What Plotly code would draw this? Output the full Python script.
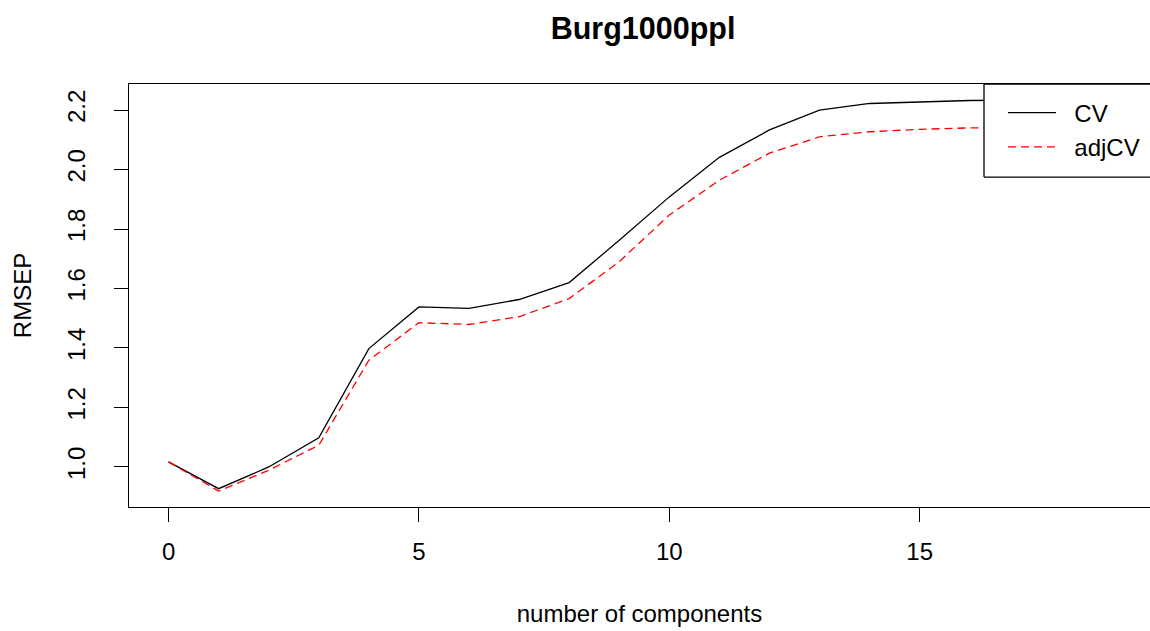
import plotly.graph_objects as go

components = list(range(0, 20))
cv = [1.017, 0.927, 1.000, 1.098, 1.398, 1.538, 1.533, 1.563, 1.620, 1.762,
      1.908, 2.041, 2.133, 2.200, 2.222, 2.226, 2.232, 2.233, 2.234, 2.235]
adjcv = [1.017, 0.919, 0.989, 1.073, 1.359, 1.485, 1.479, 1.505, 1.566, 1.690,
         1.847, 1.964, 2.055, 2.110, 2.127, 2.135, 2.140, 2.141, 2.142, 2.143]

x_ticks = [0, 5, 10, 15]
y_ticks = [1.0, 1.2, 1.4, 1.6, 1.8, 2.0, 2.2]
y_tick_labels = ["1.0", "1.2", "1.4", "1.6", "1.8", "2.0", "2.2"]

FONT = "Liberation Sans, Arial, sans-serif"
NB = "\u00a0\u00a0"

fig = go.Figure()
fig.add_trace(go.Scatter(x=components, y=cv, mode="lines", name=NB + "CV",
                         line=dict(color="black", width=1.3)))
fig.add_trace(go.Scatter(x=components, y=adjcv, mode="lines", name=NB + "adjCV",
                         line=dict(color="#FF0000", width=1.3, dash="8px,5px")))

# legend box (white, drawn above the curves), open on the cropped right side
bx0 = (984 - 129) / (1150 - 129)
by0 = (506.7 - 177) / (506.7 - 84)
fig.add_shape(type="rect", xref="paper", yref="paper",
              x0=bx0, x1=1.0, y0=by0, y1=1.0,
              fillcolor="white", line=dict(width=0), layer="above")
fig.add_shape(type="line", xref="paper", yref="paper", x0=bx0, x1=bx0, y0=by0, y1=1.0,
              line=dict(color="black", width=1.3), layer="above")
fig.add_shape(type="line", xref="paper", yref="paper", x0=bx0, x1=1.0, y0=by0, y1=by0,
              line=dict(color="black", width=1.3), layer="above")
fig.add_shape(type="line", xref="paper", yref="paper", x0=bx0, x1=1.0, y0=1.0, y1=1.0,
              line=dict(color="black", width=1.3), layer="above")

fig.update_layout(
    width=1150, height=631,
    plot_bgcolor="white", paper_bgcolor="white",
    margin=dict(l=129, r=0, t=84, b=124, autoexpand=False),
    font=dict(family=FONT, size=24, color="black"),
    title=dict(text="<b>Burg1000ppl</b>", x=643 / 1150, xref="container", xanchor="center",
               y=1 - 28 / 631, yref="container", yanchor="middle",
               font=dict(family=FONT, size=30.5, color="black")),
    showlegend=True,
    legend=dict(x=(1003 - 129) / (1150 - 129), y=(506.7 - 90.5) / (506.7 - 84),
                xanchor="left", yanchor="top",
                bgcolor="rgba(0,0,0,0)", borderwidth=0,
                font=dict(family=FONT, size=24, color="black"),
                itemwidth=48, tracegroupgap=0),
    xaxis=dict(range=[-0.79, 19.6], tickvals=x_ticks, showgrid=False, zeroline=False,
               showline=True, linecolor="black", linewidth=1.3, mirror=True,
               ticks="outside", ticklen=14, tickwidth=1, tickcolor="black",
               ticklabelstandoff=9,
               title=dict(text="number of components", standoff=41,
                          font=dict(family=FONT, size=24))),
    yaxis=dict(range=[0.8654, 2.2875], tickvals=y_ticks, ticktext=y_tick_labels,
               showgrid=False, zeroline=False,
               showline=True, linecolor="black", linewidth=1.3, mirror=False,
               ticks="outside", ticklen=14, tickwidth=1, tickcolor="black",
               tickangle=-90, ticklabelstandoff=19,
               title=dict(text="RMSEP", standoff=24,
                          font=dict(family=FONT, size=24))),
)

fig.write_html("out.html", config={"displayModeBar": False},
               post_script="document.body.style.margin='0';document.body.style.overflow='hidden';")
